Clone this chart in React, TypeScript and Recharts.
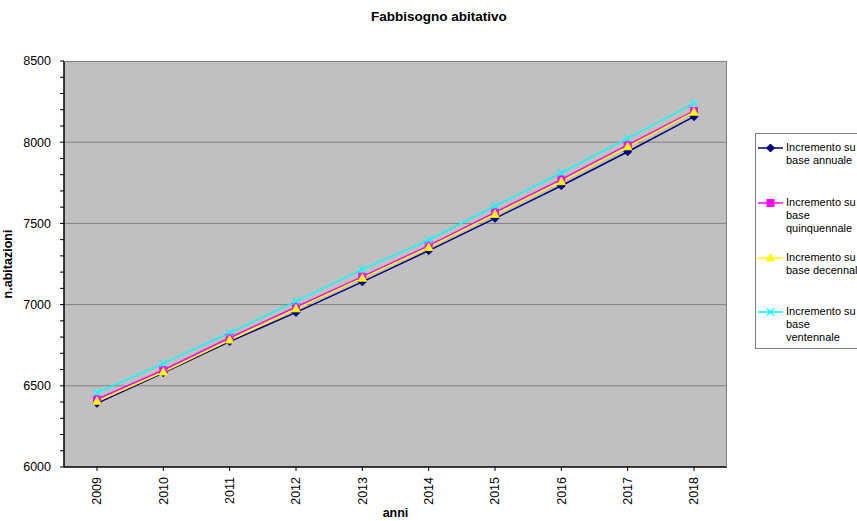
import React from 'react';
import { LineChart, Line, XAxis, YAxis, CartesianGrid } from 'recharts';

// valori
const years = ['2009', '2010', '2011', '2012', '2013', '2014', '2015', '2016', '2017', '2018'];
const annuale = [6392, 6580, 6772, 6952, 7140, 7332, 7531, 7732, 7941, 8157];
const quinquennale = [6417, 6597, 6796, 6985, 7172, 7363, 7568, 7771, 7983, 8192];
const decennale = [6405, 6585, 6782, 6974, 7163, 7352, 7556, 7757, 7972, 8185];
const ventennale = [6457, 6638, 6827, 7020, 7217, 7398, 7607, 7812, 8024, 8239];

const yTicks = [
  6000, 6100, 6200, 6300, 6400, 6500, 6600, 6700, 6800, 6900, 7000, 7100, 7200,
  7300, 7400, 7500, 7600, 7700, 7800, 7900, 8000, 8100, 8200, 8300, 8400, 8500,
];
const yLabels = [6000, 6500, 7000, 7500, 8000, 8500];
const gridValues = [6500, 7000, 7500, 8000];

const seriesKeys = ['annuale', 'quinquennale', 'decennale', 'ventennale'];
const seriesColors = ['#000080', '#FF00FF', '#FFFF00', '#00FFFF'];
const legendLines = [
  ['Incremento su', 'base annuale'],
  ['Incremento su', 'base', 'quinquennale'],
  ['Incremento su', 'base decennale'],
  ['Incremento su', 'base', 'ventennale'],
];

const data = years.map((year, i) => ({
  year,
  annuale: annuale[i],
  quinquennale: quinquennale[i],
  decennale: decennale[i],
  ventennale: ventennale[i],
}));

const FONT = '"Liberation Sans", Arial, sans-serif';

const Marker = ({ kind, cx, cy, color }: { kind: number; cx: number; cy: number; color: string }) => {
  if (kind === 0) {
    return <polygon points={`${cx},${cy - 4} ${cx + 4},${cy} ${cx},${cy + 4} ${cx - 4},${cy}`} fill={color} stroke={color} />;
  }
  if (kind === 1) {
    return <rect x={cx - 3.5} y={cy - 3.5} width={7} height={7} fill={color} stroke={color} />;
  }
  if (kind === 2) {
    return <polygon points={`${cx},${cy - 4.5} ${cx + 4},${cy + 3} ${cx - 4},${cy + 3}`} fill={color} stroke={color} />;
  }
  return (
    <g stroke={color} strokeWidth={1.2}>
      <line x1={cx - 3.5} y1={cy - 3.5} x2={cx + 3.5} y2={cy + 3.5} />
      <line x1={cx - 3.5} y1={cy + 3.5} x2={cx + 3.5} y2={cy - 3.5} />
    </g>
  );
};

const XTick = (props: any) => {
  const { x, y, payload } = props;
  return (
    <text
      x={x}
      y={y}
      transform={`rotate(-90, ${x}, ${y})`}
      textAnchor="end"
      dy="0.35em"
      fontSize={12.5}
      fontFamily={FONT}
      fill="#000"
    >
      {payload.value}
    </text>
  );
};

const YTick = (props: any) => {
  const { x, y, payload } = props;
  if (!yLabels.includes(payload.value)) return <g />;
  return (
    <text x={x} y={y} textAnchor="end" dy="0.35em" fontSize={12.5} fontFamily={FONT} fill="#000">
      {payload.value}
    </text>
  );
};

const App: React.FC = () => {
  return (
    <div style={{ position: 'relative', width: 857, height: 521, overflow: 'hidden', background: '#fff', fontFamily: FONT }}>
      <style>{`body{margin:0}`}</style>
      <div style={{ position: 'absolute', left: 0, width: 878, top: 9, textAlign: 'center', fontWeight: 'bold', fontSize: 13.5 }}>
        Fabbisogno abitativo
      </div>
      <LineChart width={857} height={521} data={data} margin={{ top: 61, right: 130, bottom: 0, left: 0 }}>
        <CartesianGrid
          vertical={false}
          horizontalValues={gridValues}
          stroke="#808080"
          fill="#C0C0C0"
          fillOpacity={1}
        />
        <XAxis
          dataKey="year"
          height={54}
          padding={{ left: 33, right: 33 }}
          axisLine={{ stroke: '#000', strokeWidth: 1.5 }}
          tickLine={{ stroke: '#000' }}
          tickSize={4}
          tickMargin={6}
          tick={<XTick />}
          interval={0}
          label={{ value: 'anni', position: 'insideBottom', offset: 4, fontWeight: 'bold', fontSize: 12.5, fill: '#000', fontFamily: FONT }}
        />
        <YAxis
          width={64}
          domain={[6000, 8500]}
          ticks={yTicks}
          interval={0}
          axisLine={{ stroke: '#000', strokeWidth: 1.5 }}
          tickLine={{ stroke: '#000' }}
          tickSize={4}
          tickMargin={9}
          tick={<YTick />}
          label={{ value: 'n.abitazioni', angle: -90, position: 'insideLeft', offset: 8, fontWeight: 'bold', fontSize: 12.5, fill: '#000', fontFamily: FONT, style: { textAnchor: 'middle' } }}
        />
        {seriesKeys.map((key, i) => (
          <Line
            key={key}
            dataKey={key}
            stroke={seriesColors[i]}
            strokeWidth={1.5}
            isAnimationActive={false}
            dot={(p: any) => <Marker key={`${key}-${p.index}`} kind={i} cx={p.cx} cy={p.cy} color={seriesColors[i]} />}
            activeDot={false}
          />
        ))}
      </LineChart>
      <div style={{ position: 'absolute', left: 64, top: 61, width: 663, height: 406, borderTop: '1px solid #808080', borderRight: '1px solid #808080', boxSizing: 'border-box', pointerEvents: 'none' }} />
      <div style={{ position: 'absolute', left: 755, top: 133, width: 110, height: 216, border: '1px solid #808080', boxSizing: 'border-box', background: '#fff' }}>
        {legendLines.map((lines, i) => (
          <div key={i} style={{ position: 'absolute', left: 1, top: [7, 62, 117, 171][i], display: 'flex', alignItems: 'flex-start' }}>
            <svg width={28} height={13} style={{ flex: 'none' }}>
              <line x1={1} y1={7} x2={26} y2={7} stroke={seriesColors[i]} strokeWidth={1.5} />
              <Marker kind={i} cx={13.5} cy={7} color={seriesColors[i]} />
            </svg>
            <div style={{ fontSize: 11, lineHeight: '13px', whiteSpace: 'nowrap', color: '#000', marginLeft: 1 }}>
              {lines.map((l, j) => (
                <div key={j}>{l}</div>
              ))}
            </div>
          </div>
        ))}
      </div>
    </div>
  );
};

export default App;
